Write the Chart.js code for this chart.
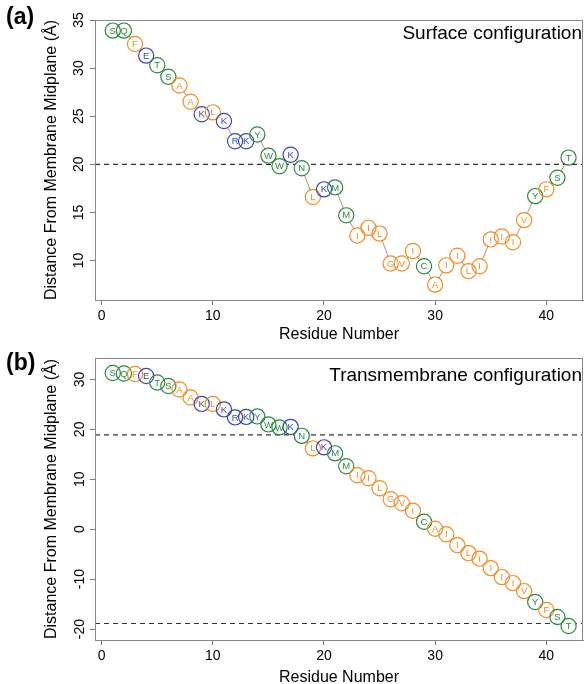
<!DOCTYPE html>
<html>
<head>
<meta charset="utf-8">
<script src="https://cdn.jsdelivr.net/npm/chart.js@4.4.1/dist/chart.umd.min.js"></script>
<style>
    html, body { margin: 0; padding: 0; background: #fff; }
    #wrap { position: relative; width: 586px; height: 684px; }
    canvas { position: absolute; left: 0; }
</style>
</head>
<body>
<div id="wrap">
    <canvas id="surfaceChart" width="586" height="342" style="top:0"></canvas>
    <canvas id="transChart" width="586" height="342" style="top:342px"></canvas>
</div>
<script>
// Residue sequence (1..42)
const residueNumbers = [1,2,3,4,5,6,7,8,9,10,11,12,13,14,15,16,17,18,19,20,21,22,23,24,25,26,27,28,29,30,31,32,33,34,35,36,37,38,39,40,41,42];
const residues = ['S','Q','F','E','T','S','A','A','K','L','K','R','K','Y','W','W','K','N','L','K','M','M','I','I','L','G','V','I','C','A','I','I','L','I','I','I','I','V','Y','F','S','T'];

// Distance from membrane midplane (Å)
const surfaceDepth = [33.9,33.9,32.5,31.3,30.3,29.1,28.2,26.5,25.2,25.4,24.5,22.4,22.4,23.1,20.9,19.8,21.0,19.6,16.6,17.4,17.6,14.7,12.6,13.4,12.8,9.7,9.7,11.0,9.4,7.5,9.5,10.5,8.9,9.4,12.2,12.5,11.9,14.2,16.7,17.4,18.6,20.7];
const transDepth = [31.3,31.2,31.1,30.7,29.4,28.7,28.0,26.4,25.1,25.1,24.0,22.4,22.5,22.6,21.0,20.4,20.5,18.7,16.2,16.4,15.2,12.6,10.8,10.2,8.2,6.0,5.2,3.7,1.5,0.1,-1.0,-3.2,-4.8,-5.9,-7.8,-9.6,-10.8,-12.4,-14.6,-16.2,-17.6,-19.4];

// Membrane boundaries (dashed)
const surfaceBoundary = [20];
const transBoundaries = [18.9, -18.9];

// Axis ticks
const xTicks = [0, 10, 20, 30, 40];
const surfaceYTicks = [10, 15, 20, 25, 30, 35];
const transYTicks = [-20, -10, 0, 10, 20, 30];

// Residue colours
const hydrophobic = 'FALIGV';
const charged = 'EKR';
const COLORS = { hydrophobic: '#f68b1f', charged: '#3a45b8', polar: '#2b8a3e' };
const colorFor = (r) => hydrophobic.includes(r) ? COLORS.hydrophobic : (charged.includes(r) ? COLORS.charged : COLORS.polar);
const residueColors = residues.map(colorFor);

const FONT = "'Liberation Sans', Arial, sans-serif";

// dashed lines, frame, panel labels, residue letters
const panelPlugin = {
    id: 'panelPlugin',
    beforeDatasetsDraw(chart) {
        const { ctx, chartArea: a, scales } = chart;
        const o = chart.options.plugins.panelPlugin;
        ctx.save();
        ctx.strokeStyle = '#333';
        ctx.lineWidth = 1.1;
        ctx.setLineDash([5, 4]);
        o.boundaries.forEach(v => {
            const y = scales.y.getPixelForValue(v);
            ctx.beginPath();
            ctx.moveTo(a.left, y);
            ctx.lineTo(a.right, y);
            ctx.stroke();
        });
        ctx.restore();
    },
    afterDraw(chart) {
        const { ctx, chartArea: a } = chart;
        const o = chart.options.plugins.panelPlugin;
        ctx.save();
        // frame
        ctx.strokeStyle = '#888';
        ctx.lineWidth = 1;
        ctx.strokeRect(a.left + 0.5, a.top + 0.5, a.right - a.left - 1, a.bottom - a.top);

        // residue letters
        const meta = chart.getDatasetMeta(0);
        ctx.font = `9.5px ${FONT}`;
        ctx.textAlign = 'center';
        ctx.textBaseline = 'middle';
        meta.data.forEach((pt, i) => {
            ctx.fillStyle = residueColors[i];
            ctx.fillText(residues[i], pt.x, pt.y + 0.5);
        });

        // panel title
        ctx.fillStyle = '#000';
        ctx.font = `19px ${FONT}`;
        ctx.textAlign = 'right';
        ctx.fillText(o.title, a.right - 1, a.top + o.titleDy);

        // panel letter
        ctx.font = `bold 23px ${FONT}`;
        ctx.textAlign = 'left';
        ctx.fillText(o.letter, 6, o.letterY);
        ctx.restore();
    }
};

function createPanel(id, depth, cfg) {
    const points = residueNumbers.map((n, i) => ({ x: n, y: depth[i] }));
    const canvas = document.getElementById(id);
    const H = canvas.height;
    return new Chart(canvas.getContext('2d'), {
        type: 'scatter',
        data: {
            datasets: [
                {   // circles
                    data: points,
                    pointRadius: 7.6,
                    pointBorderWidth: 1.2,
                    pointBackgroundColor: 'rgba(0,0,0,0)',
                    pointBorderColor: residueColors,
                    order: 0
                },
                {   // white mask so the line stops at the circles
                    data: points,
                    pointRadius: 7,
                    pointBorderWidth: 0,
                    pointBackgroundColor: '#fff',
                    pointBorderColor: '#fff',
                    order: 1
                },
                {   // connecting line
                    data: points,
                    showLine: true,
                    pointRadius: 0,
                    borderColor: '#b3917d',
                    borderWidth: 1,
                    order: 2
                }
            ]
        },
        options: {
            responsive: false,
            animation: false,
            events: [],
            layout: { autoPadding: false, padding: { top: cfg.top, right: 3, left: 0, bottom: 0 } },
            plugins: {
                legend: { display: false },
                tooltip: { enabled: false },
                panelPlugin: {
                    boundaries: cfg.boundaries,
                    title: cfg.title,
                    titleDy: cfg.titleDy,
                    letter: cfg.letter,
                    letterY: cfg.letterY
                }
            },
            scales: {
                x: {
                    type: 'linear',
                    min: -0.6,
                    max: 43.3,
                    afterFit: (s) => {
                        s.height = H - cfg.bottom;
                        s.paddingLeft = 0;
                        s.paddingRight = 0;
                    },
                    afterBuildTicks: (s) => { s.ticks = xTicks.map(v => ({ value: v })); },
                    grid: { display: true, drawOnChartArea: false, tickLength: 5, color: '#777' },
                    border: { color: '#777' },
                    ticks: { color: '#000', padding: 3, maxRotation: 0, font: { family: FONT, size: 14 } },
                    title: {
                        display: true,
                        text: 'Residue Number',
                        color: '#000',
                        font: { family: FONT, size: 16, lineHeight: 1 },
                        padding: { top: 0, bottom: cfg.xTitlePad }
                    }
                },
                y: {
                    type: 'linear',
                    min: cfg.yMin,
                    max: cfg.yMax,
                    afterFit: (s) => {
                        s.width = 95;
                        s.paddingTop = 0;
                        s.paddingBottom = 0;
                    },
                    afterBuildTicks: (s) => { s.ticks = cfg.yTicks.map(v => ({ value: v })); },
                    grid: { display: true, drawOnChartArea: false, tickLength: 5, color: '#777' },
                    border: { color: '#777' },
                    ticks: {
                        color: '#000',
                        minRotation: 90,
                        maxRotation: 90,
                        crossAlign: 'center',
                        padding: cfg.yTickPad,
                        font: { family: FONT, size: 14 }
                    },
                    title: {
                        display: true,
                        text: 'Distance From Membrane Midplane (Å)',
                        color: '#000',
                        font: { family: FONT, size: 16, lineHeight: 1.2 },
                        padding: { top: 42, bottom: 0 }
                    }
                }
            }
        },
        plugins: [panelPlugin]
    });
}

createPanel('surfaceChart', surfaceDepth, {
    top: 20, bottom: 300, yMin: 5.9, yMax: 35, yTicks: surfaceYTicks, yTickPad: 3,
    boundaries: surfaceBoundary, title: 'Surface configuration', titleDy: 14,
    letter: '(a)', letterY: 18, xTitlePad: -1
});

createPanel('transChart', transDepth, {
    top: 16, bottom: 298, yMin: -22.2, yMax: 34.3, yTicks: transYTicks, yTickPad: 0,
    boundaries: transBoundaries, title: 'Transmembrane configuration', titleDy: 18,
    letter: '(b)', letterY: 22, xTitlePad: -2
});
</script>
</body>
</html>
